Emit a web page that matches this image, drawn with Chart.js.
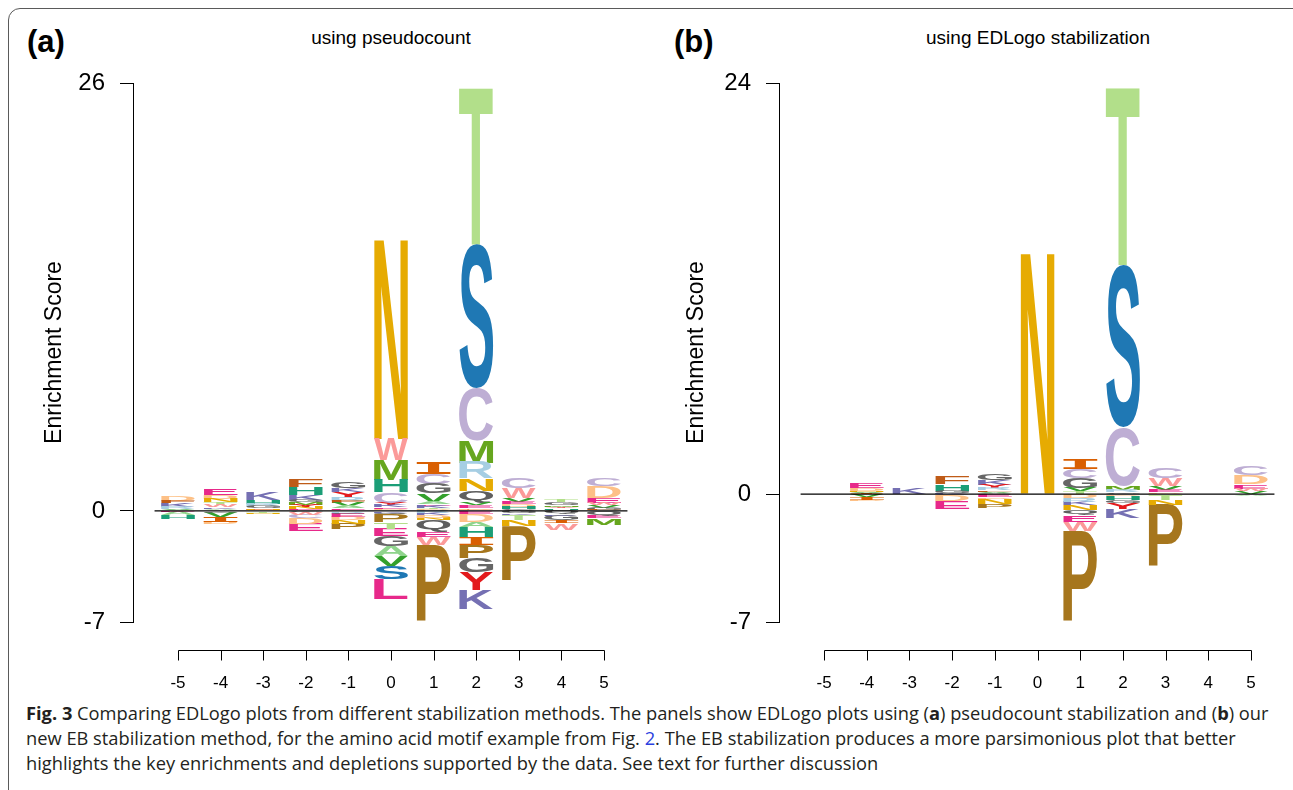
<!DOCTYPE html>
<html><head><meta charset="utf-8">
<script src="https://cdn.jsdelivr.net/npm/chart.js@4.4.1/dist/chart.umd.min.js"></script>
<style>
html,body{margin:0;padding:0;background:#fff;}
body{width:1293px;height:790px;position:relative;overflow:hidden;font-family:"Liberation Sans",Arial,sans-serif;}
#frame{position:absolute;left:8px;top:8px;width:1320px;height:820px;border:1.5px solid #5a5a5a;border-radius:12px;}
.cv{position:absolute;top:0;}
.plab{position:absolute;top:24px;font:bold 31px "Liberation Sans";color:#000;}
.ptitle{position:absolute;top:27px;font:19px "Liberation Sans";transform:translateX(-50%);white-space:nowrap;color:#000;}
#caption{position:absolute;left:26px;top:700px;font:18.3px/25px "Open Sans";color:#231f20;white-space:nowrap;}
#caption b{font-weight:700;}
</style></head>
<body>
<div id="frame"></div>
<div class="plab" style="left:27px">(a)</div>
<div class="plab" style="left:674px">(b)</div>
<div class="ptitle" style="left:391px">using pseudocount</div>
<div class="ptitle" style="left:1038px">using EDLogo stabilization</div>
<div class="cv" style="left:0"><canvas id="cA" width="646" height="700"></canvas></div>
<div class="cv" style="left:646px"><canvas id="cB" width="647" height="700"></canvas></div>
<div id="caption"><b>Fig. 3</b> Comparing EDLogo plots from different stabilization methods. The panels show EDLogo plots using (<b>a</b>) pseudocount stabilization and (<b>b</b>) our<br>new EB stabilization method, for the amino acid motif example from Fig. <span style="color:#2b3fe0">2</span>. The EB stabilization produces a more parsimonious plot that better<br>highlights the key enrichments and depletions supported by the data. See text for further discussion</div>
<script>
// ---------- DATA ----------
const positions = [-5, -4, -3, -2, -1, 0, 1, 2, 3, 4, 5];

// Panel (a): pseudocount. Letters listed from the zero line outward.
const aUpLetters = ["AVRKFD", "LAKWTNDE", "NEGRHK", "DENYMGKHF", "TEAVFRYKG", "DEKYCHMWN", "DTKEAVGCI", "DFEVQNRMCST", "GHDEVWC", "DHYMGT", "FGVWEDC"];
const aUpValues = [
  [0.05, 0.07, 0.12, 0.24, 0.13, 0.30],
  [0.06, 0.06, 0.10, 0.12, 0.18, 0.20, 0.25, 0.35],
  [0.08, 0.08, 0.12, 0.15, 0.22, 0.50],
  [0.06, 0.06, 0.12, 0.12, 0.18, 0.12, 0.30, 0.49, 0.49],
  [0.06, 0.10, 0.13, 0.20, 0.13, 0.20, 0.30, 0.25, 0.43],
  [0.12, 0.10, 0.12, 0.15, 0.63, 0.75, 1.22, 1.28, 12.27],
  [0.10, 0.10, 0.12, 0.10, 0.15, 0.48, 0.60, 0.60, 0.73],
  [0.07, 0.08, 0.18, 0.18, 0.73, 0.73, 0.97, 1.34, 3.20, 8.69, 9.65],
  [0.12, 0.12, 0.18, 0.12, 0.24, 0.60, 0.61],
  [0.05, 0.10, 0.10, 0.10, 0.18, 0.12],
  [0.08, 0.12, 0.15, 0.14, 0.30, 0.72, 0.50]
];
const aDownLetters = ["EAH", "GVID", "TN", "GWCDE", "RGEDNP", "KQPTEGAVSL", "RKDNQEWP", "EDAHIPGYK", "GKTNP", "QKGIW", "QEM"];
const aDownValues = [
  [-0.07, -0.20, -0.25],
  [-0.10, -0.30, -0.30, -0.12],
  [-0.10, -0.08],
  [-0.08, -0.15, -0.20, -0.35, -0.42],
  [-0.10, -0.08, -0.20, -0.20, -0.20, -0.35],
  [-0.10, -0.12, -0.48, -0.42, -0.42, -0.60, -0.60, -0.60, -0.80, -1.20],
  [-0.15, -0.12, -0.15, -0.13, -0.73, -0.30, -0.49, -4.68],
  [-0.18, -0.49, -0.30, -0.60, -0.49, -0.79, -0.85, -1.10, -1.15],
  [-0.15, -0.08, -0.30, -0.36, -3.34],
  [-0.18, -0.10, -0.30, -0.15, -0.40],
  [-0.30, -0.12, -0.42]
];
const aYLimits = [-6.75, 26];
const aYTickLabels = ["-7", "0", "26"];

// Panel (b): EDLogo stabilization.
const bUpLetters = ["", "IVNDE", "K", "KGHF", "AVFRYKG", "N", "TVGCI", "GRMCST", "DEVWC", "", "VWEDC"];
const bUpValues = [
  [],
  [0.06, 0.06, 0.06, 0.15, 0.28],
  [0.38],
  [0.08, 0.12, 0.40, 0.47],
  [0.07, 0.07, 0.08, 0.12, 0.20, 0.28, 0.38],
  [14.25],
  [0.15, 0.18, 0.58, 0.53, 0.58],
  [0.10, 0.12, 0.25, 3.40, 9.50, 10.45],
  [0.10, 0.15, 0.23, 0.47, 0.58],
  [],
  [0.20, 0.12, 0.25, 0.52, 0.52]
];
const bDownLetters = ["", "VID", "", "CDE", "EDNP", "", "DRKNQEWP", "DHGYK", "TNP", "", "A"];
const bDownValues = [
  [],
  [-0.18, -0.15, -0.10],
  [],
  [-0.08, -0.35, -0.45],
  [-0.20, -0.10, -0.28, -0.25],
  [],
  [-0.23, -0.23, -0.20, -0.28, -0.30, -0.38, -0.53, -5.32],
  [-0.12, -0.20, -0.18, -0.38, -0.50],
  [-0.35, -0.30, -3.62],
  [],
  [-0.10]
];
const bYLimits = [-7.47, 24];
const bYTickLabels = ["-7", "0", "24"];

// horizontal reference line at zero (x extent)
const zeroLineX = [-5.55, 5.55];

const letterColors = {
  A: "#8fd48c", C: "#beaed4", D: "#fdc086", E: "#e7298a", F: "#bf5b17",
  G: "#666666", H: "#1b9e77", I: "#d95f02", K: "#7570b3", L: "#e7298a",
  M: "#66a61e", N: "#e6ab02", P: "#a6761d", Q: "#5f5f5f", R: "#a6cee3",
  S: "#1f78b4", T: "#b2df8a", V: "#33a02c", W: "#fb9a99", Y: "#e31a1c"
};

// ---------- BUILD ----------
function buildDatasets(letters, values) {
  const n = Math.max(0, ...letters.map(s => s.length));
  const out = [];
  for (let k = 0; k < n; k++) {
    out.push({
      type: "bar",
      data: positions.map((p, i) => ({ x: p, y: values[i][k] !== undefined ? values[i][k] : null })),
      letters: positions.map((p, i) => letters[i][k] || null),
      backgroundColor: "rgba(0,0,0,0)",
      borderWidth: 0,
      stack: "logo",
      order: 1,
      barPercentage: 0.8,
      categoryPercentage: 1.0
    });
  }
  return out;
}

const logoPlugin = {
  id: "logoLetters",
  afterDatasetDraw(chart, args) {
    const ds = chart.data.datasets[args.index];
    if (!ds.letters) return;
    const ctx = chart.ctx;
    ctx.save();
    ctx.textAlign = "left";
    ctx.textBaseline = "alphabetic";
    args.meta.data.forEach((el, j) => {
      const ch = ds.letters[j];
      if (!ch) return;
      const p = el.getProps(["x", "y", "base", "width"], true);
      if (!isFinite(p.y) || !isFinite(p.base)) return;
      const top = Math.min(p.y, p.base);
      const h = Math.abs(p.base - p.y);
      if (h < 0.2) return;
      ctx.font = ch === "I" ? 'bold 100px "DejaVu Sans Mono"' : 'bold 100px "Liberation Sans"';
      const m = ctx.measureText(ch);
      const gw = m.actualBoundingBoxLeft + m.actualBoundingBoxRight;
      const gh = m.actualBoundingBoxAscent + m.actualBoundingBoxDescent;
      ctx.save();
      ctx.translate(p.x - p.width / 2, top);
      ctx.scale(p.width / gw, h / gh);
      ctx.fillStyle = letterColors[ch];
      ctx.fillText(ch, m.actualBoundingBoxLeft, m.actualBoundingBoxAscent);
      ctx.restore();
    });
    ctx.restore();
  }
};

const rAxisPlugin = {
  id: "rStyleXAxis",
  afterDraw(chart) {
    const xs = chart.scales.x;
    const ctx = chart.ctx;
    const y0 = Math.round(chart.chartArea.bottom + 28) + 0.5;
    const px = xs.ticks.map(t => Math.round(xs.getPixelForValue(t.value)) + 0.5);
    ctx.save();
    ctx.strokeStyle = "#000";
    ctx.lineWidth = 1;
    ctx.beginPath();
    ctx.moveTo(px[0], y0);
    ctx.lineTo(px[px.length - 1], y0);
    px.forEach(x => { ctx.moveTo(x, y0); ctx.lineTo(x, y0 + 10); });
    ctx.stroke();
    ctx.restore();
  }
};

function makeChart(id, upL, upV, dnL, dnV, yLim, yLab, titlePad) {
  const datasets = buildDatasets(upL, upV).concat(buildDatasets(dnL, dnV));
  datasets.push({
    type: "line",
    data: zeroLineX.map(x => ({ x: x, y: 0 })),
    borderColor: "#000",
    borderWidth: 1.2,
    pointRadius: 0,
    order: 0,
    stack: "zero"
  });
  return new Chart(document.getElementById(id), {
    type: "bar",
    data: { datasets },
    plugins: [logoPlugin, rAxisPlugin],
    options: {
      responsive: false,
      animation: false,
      events: [],
      layout: { padding: { left: 0, right: 16, top: 83, bottom: 3 } },
      plugins: { legend: { display: false }, tooltip: { enabled: false } },
      scales: {
        x: {
          type: "linear",
          offset: false,
          min: -6.056,
          max: 5.61,
          stacked: true,
          afterBuildTicks: s => { s.ticks = positions.map(v => ({ value: v })); },
          afterFit: s => { s.height = 75; },
          ticks: {
            autoSkip: false, maxRotation: 0, padding: 0, color: "#000",
            font: { family: "Liberation Sans", size: 17 },
            callback: v => String(v)
          },
          grid: { display: false, drawTicks: true, tickLength: 51 },
          border: { display: false }
        },
        y: {
          type: "linear",
          min: yLim[0],
          max: yLim[1],
          stacked: true,
          afterBuildTicks: s => { s.ticks = [yLim[0], 0, yLim[1]].map(v => ({ value: v })); },
          afterFit: s => { s.width = 133; },
          ticks: {
            padding: 15, color: "#000",
            font: { family: "Liberation Sans", size: 24 },
            callback: (v, i) => yLab[i]
          },
          grid: { drawOnChartArea: false, drawTicks: true, tickLength: 13, color: "#000", lineWidth: 1 },
          border: { display: true, color: "#000", width: 1 },
          title: {
            display: true, text: "Enrichment Score", color: "#000",
            font: { family: "Liberation Sans", size: 23 },
            padding: { top: titlePad, bottom: 0 }
          }
        }
      }
    }
  });
}

makeChart("cA", aUpLetters, aUpValues, aDownLetters, aDownValues, aYLimits, aYTickLabels, 41);
makeChart("cB", bUpLetters, bUpValues, bDownLetters, bDownValues, bYLimits, bYTickLabels, 37);
</script>
</body></html>
